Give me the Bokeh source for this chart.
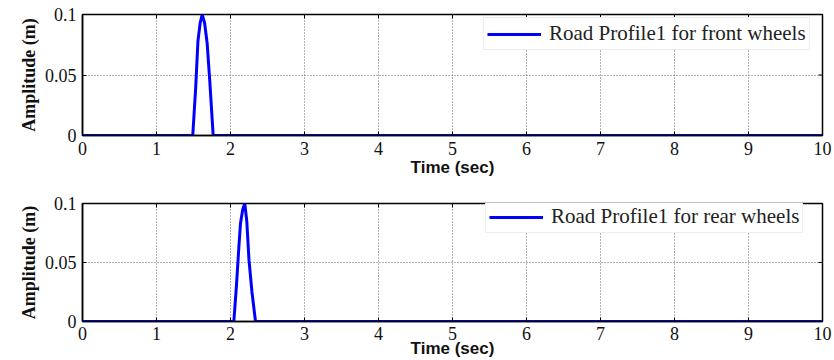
from bokeh.plotting import figure
from bokeh.layouts import column
from bokeh.models import Legend, LegendItem, FixedTicker, Range1d
from bokeh.embed import file_html
from bokeh.resources import INLINE

# ---- data ----
t_front = [0, 1.49, 1.53, 1.56, 1.59, 1.617, 1.65, 1.685, 1.72, 1.766, 10]
y_front = [0, 0, 0.04, 0.078, 0.093, 0.1, 0.093, 0.076, 0.045, 0, 0]
t_rear = [0, 2.045, 2.08, 2.113, 2.135, 2.165, 2.193, 2.22, 2.25, 2.29, 2.338, 10]
y_rear = [0, 0, 0.03, 0.063, 0.083, 0.095, 0.1, 0.085, 0.052, 0.025, 0, 0]
x_ticks = [0, 1, 2, 3, 4, 5, 6, 7, 8, 9, 10]
y_ticks = [0, 0.05, 0.1]
y_tick_labels = {0: "0", 0.05: "0.05", 0.1: "0.1"}
label_front = "Road Profile1 for front wheels"
label_rear = "Road Profile1 for rear wheels"
x_title = "Time (sec)"
y_title = "Amplitude (m)"

SERIF = "Liberation Serif"
SANS = "Liberation Sans"
W, H_FIG = 834, 180
LEFT, RIGHT = 82, 12
X0, X1, Y0, Y1 = 0, 10, 0, 0.1


def make(t, y, label, top, bottom, tick_standoff, xlabel_standoff, legend_loc):
    p = figure(width=W, height=H_FIG, output_backend="svg", toolbar_location=None,
               x_range=Range1d(X0, X1), y_range=Range1d(Y0, Y1),
               min_border_left=LEFT, min_border_right=RIGHT,
               min_border_top=top, min_border_bottom=bottom)
    p.outline_line_color = "black"
    p.outline_line_width = 1.5

    p.xgrid.ticker = FixedTicker(ticks=x_ticks)
    p.ygrid.ticker = FixedTicker(ticks=y_ticks)
    for g in (p.xgrid, p.ygrid):
        g.grid_line_color = "#666666"
        g.grid_line_dash = "1 2"
        g.grid_line_width = 1

    # inward ticks on top and right sides (box on)
    fw = W - LEFT - RIGHT
    fh = H_FIG - top - bottom
    dx = (X1 - X0) / fw * 4
    dy = (Y1 - Y0) / fh * 4
    p.segment(x0=x_ticks, y0=[Y1] * len(x_ticks), x1=x_ticks, y1=[Y1 - dy] * len(x_ticks),
              line_color="black", line_width=1)
    p.segment(x0=[X1] * len(y_ticks), y0=y_ticks, x1=[X1 - dx] * len(y_ticks), y1=y_ticks,
              line_color="black", line_width=1)

    r = p.line(t, y, line_color="#0000ff", line_width=3)

    for ax in p.xaxis:
        ax.ticker = FixedTicker(ticks=x_ticks)
        ax.axis_label = x_title
        ax.axis_label_text_font = SANS
        ax.axis_label_text_font_style = "bold"
        ax.axis_label_text_font_size = "17px"
        ax.axis_label_standoff = xlabel_standoff
        ax.major_label_text_font = SERIF
        ax.major_label_text_font_size = "18px"
        ax.major_label_standoff = tick_standoff
    for ax in p.yaxis:
        ax.ticker = FixedTicker(ticks=y_ticks)
        ax.major_label_overrides = y_tick_labels
        ax.axis_label = y_title
        ax.axis_label_text_font = SERIF
        ax.axis_label_text_font_style = "bold"
        ax.axis_label_text_font_size = "18px"
        ax.axis_label_standoff = 3
        ax.major_label_text_font = SERIF
        ax.major_label_text_font_size = "18px"
        ax.major_label_standoff = 6
    for ax in list(p.xaxis) + list(p.yaxis):
        ax.major_tick_in = 4
        ax.major_tick_out = 0
        ax.minor_tick_line_color = None
        ax.axis_line_color = "black"
        ax.axis_line_width = 1.5
        ax.major_tick_line_color = "black"
        ax.major_label_text_color = "#111111"
        ax.axis_label_text_color = "#111111"

    leg = Legend(items=[LegendItem(label=label, renderers=[r])])
    leg.location = legend_loc
    leg.margin = 0
    leg.padding = 3
    leg.label_text_font = SERIF
    leg.label_text_font_size = "21px"
    leg.label_text_color = "#222222"
    leg.glyph_width = 54
    leg.glyph_height = 18
    leg.label_standoff = 8
    leg.border_line_color = "#dddddd"
    leg.border_line_width = 1
    leg.background_fill_alpha = 1.0
    p.add_layout(leg, "center")
    return p


p1 = make(t_front, y_front, label_front, 14, 45, 6, 0, (401, 85))
p2 = make(t_rear, y_rear, label_rear, 23, 38, 5, -4, (403, 88))
layout = column(p1, p2, spacing=0)

open("out.html", "w").write(file_html(layout, INLINE))
